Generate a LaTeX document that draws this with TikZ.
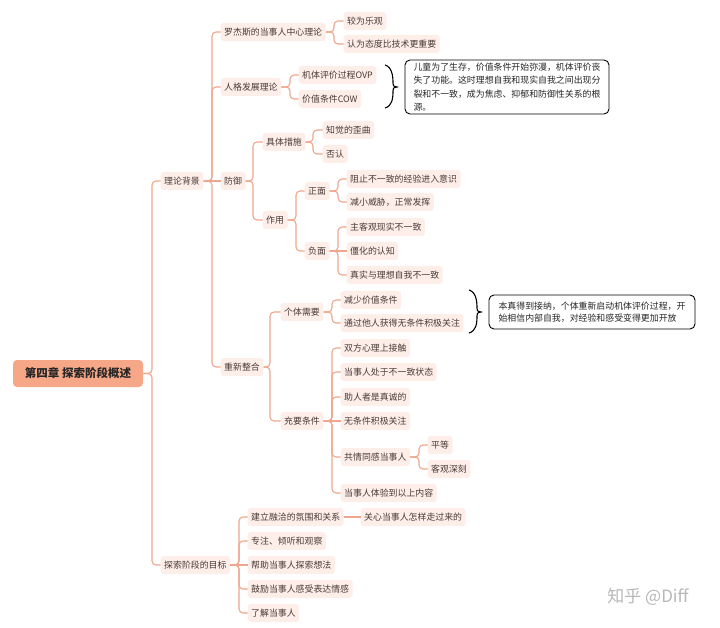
\documentclass[tikz,border=0pt]{standalone}
\usepackage{fontspec}
\setmainfont{Noto Sans CJK SC}
\usetikzlibrary{calc}
\definecolor{ln}{HTML}{F0A68C}
\definecolor{nbg}{HTML}{FDEEE9}
\definecolor{ntx}{HTML}{4A3B36}
\definecolor{rootc}{HTML}{F6A788}
\newcommand\brn[3]{\draw[conn] (#1.east) -- (#1.east -| #2) |- (#3.west);}
\begin{document}
\begin{tikzpicture}[x=1pt,y=-1pt,
  n/.style={fill=nbg, text=ntx, rounded corners=3pt, inner xsep=3.5pt, inner ysep=0pt, minimum height=18pt, anchor=west, font=\fontsize{8.9}{10}\selectfont},
  conn/.style={draw=ln, line width=1.1pt, rounded corners=4pt},
  rootbox/.style={fill=rootc, rounded corners=4pt, minimum width=130pt, minimum height=27pt, inner sep=0pt, font=\fontsize{11.5}{12}\selectfont\bfseries, text=black!85},
  note/.style={draw=black, line width=0.9pt, fill=white, rounded corners=5pt, align=left, inner sep=0pt, text=black!85, font=\fontsize{8.9}{13.4}\selectfont},
  brk/.style={draw=black, line width=1.1pt}]
\useasboundingbox (0,0) rectangle (720,628);
\fill[white] (0,0) rectangle (720,628);
% spine coordinates
\coordinate (s0) at (152,0);
\coordinate (s1) at (212,0);
\coordinate (s2) at (334,0);
\coordinate (s3) at (290,0);
\coordinate (s4) at (253,0);
\coordinate (s5) at (313,0);
\coordinate (s6) at (296,0);
\coordinate (s7) at (338,0);
\coordinate (s8) at (270,0);
\coordinate (s9) at (332,0);
\coordinate (s10) at (419,0);
\coordinate (s11) at (239,0);
% nodes
\node[rootbox] (root) at (78,373.5) {第四章 探索阶段概述};
\node[n] (bj) at (160.5,181) {理论背景};
\node[n] (mb) at (160.5,565) {探索阶段的目标};
\node[n] (rj) at (220.5,32) {罗杰斯的当事人中心理论};
\node[n] (rg) at (220.5,87) {人格发展理论};
\node[n] (fy) at (220.5,181) {防御};
\node[n] (cz) at (220.5,367) {重新整合};
\node[n] (a1) at (343.5,21) {较为乐观};
\node[n] (a2) at (343.5,44) {认为态度比技术更重要};
\node[n] (b1) at (298.5,75) {机体评价过程OVP};
\node[n] (b2) at (298.5,99) {价值条件COW};
\node[n] (c1) at (262.5,142) {具体措施};
\node[n] (c2) at (262.5,220) {作用};
\node[n] (d1) at (322.5,130) {知觉的歪曲};
\node[n] (d2) at (322.5,154) {否认};
\node[n] (e1) at (304.5,191) {正面};
\node[n] (e2) at (304.5,251) {负面};
\node[n] (f1) at (346.5,179) {阻止不一致的经验进入意识};
\node[n] (f2) at (346.5,202) {减小威胁，正常发挥};
\node[n] (g1) at (346.5,227) {主客观现实不一致};
\node[n] (g2) at (346.5,251) {僵化的认知};
\node[n] (g3) at (346.5,275) {真实与理想自我不一致};
\node[n] (h1) at (280.5,312) {个体需要};
\node[n] (h2) at (280.5,421) {充要条件};
\node[n] (i1) at (340.5,300) {减少价值条件};
\node[n] (i2) at (340.5,323) {通过他人获得无条件积极关注};
\node[n] (j1) at (340.5,348) {双方心理上接触};
\node[n] (j2) at (340.5,372) {当事人处于不一致状态};
\node[n] (j3) at (340.5,397) {助人者是真诚的};
\node[n] (j4) at (340.5,421) {无条件积极关注};
\node[n] (j5) at (340.5,457) {共情同感当事人};
\node[n] (j6) at (340.5,493) {当事人体验到以上内容};
\node[n] (k1) at (427.5,445) {平等};
\node[n] (k2) at (427.5,469) {客观深刻};
\node[n] (m1) at (247.5,517) {建立融洽的氛围和关系};
\node[n] (m2) at (247.5,541) {专注、倾听和观察};
\node[n] (m3) at (247.5,565) {帮助当事人探索想法};
\node[n] (m4) at (247.5,589) {鼓励当事人感受表达情感};
\node[n] (m5) at (247.5,613) {了解当事人};
\node[n] (m6) at (360.5,517) {关心当事人怎样走过来的};
% connectors
\brn{root}{s0}{bj} \brn{root}{s0}{mb}
\brn{bj}{s1}{rj} \brn{bj}{s1}{rg} \brn{bj}{s1}{cz}
\draw[conn] (bj.east) -- (fy.west);
\brn{rj}{s2}{a1} \brn{rj}{s2}{a2}
\brn{rg}{s3}{b1} \brn{rg}{s3}{b2}
\brn{fy}{s4}{c1} \brn{fy}{s4}{c2}
\brn{c1}{s5}{d1} \brn{c1}{s5}{d2}
\brn{c2}{s6}{e1} \brn{c2}{s6}{e2}
\brn{e1}{s7}{f1} \brn{e1}{s7}{f2}
\brn{e2}{s7}{g1} \brn{e2}{s7}{g3}
\draw[conn] (e2.east) -- (g2.west);
\brn{cz}{s8}{h1} \brn{cz}{s8}{h2}
\brn{h1}{s9}{i1} \brn{h1}{s9}{i2}
\brn{h2}{s9}{j1} \brn{h2}{s9}{j2} \brn{h2}{s9}{j3} \brn{h2}{s9}{j5} \brn{h2}{s9}{j6}
\draw[conn] (h2.east) -- (j4.west);
\brn{j5}{s10}{k1} \brn{j5}{s10}{k2}
\brn{mb}{s11}{m1} \brn{mb}{s11}{m2} \brn{mb}{s11}{m4} \brn{mb}{s11}{m5}
\draw[conn] (mb.east) -- (m3.west);
\draw[conn] (m1.east) -- (m6.west);
% braces
\draw[brk] (385,65) .. controls (392,67) and (393,76) .. (393,83) .. controls (393,86) .. (397,87) .. controls (393,88) .. (393,91) .. controls (393,99) and (392,106) .. (385,108);
\draw[brk] (469,290) .. controls (476,292) and (477,301) .. (477,308) .. controls (477,311) .. (481,312) .. controls (477,313) .. (477,316) .. controls (477,324) and (476,331) .. (469,333);
% notes
\node[note, minimum width=204pt, minimum height=54pt] (nt1) at (507,87) {儿童为了生存，价值条件开始弥漫，机体评价丧\\失了功能。这时理想自我和现实自我之间出现分\\裂和不一致，成为焦虑、抑郁和防御性关系的根\\源。};
\node[note, minimum width=206pt, minimum height=34pt, font=\fontsize{8.9}{12.5}\selectfont] (nt2) at (592,312) {本真得到接纳，个体重新启动机体评价过程，开\\始相信内部自我，对经验和感受变得更加开放};
% watermark
\node[font=\fontsize{17}{17}\selectfont, text=black!28] (wm) at (648,597) {知乎 @Diff};
\end{tikzpicture}
\end{document}
